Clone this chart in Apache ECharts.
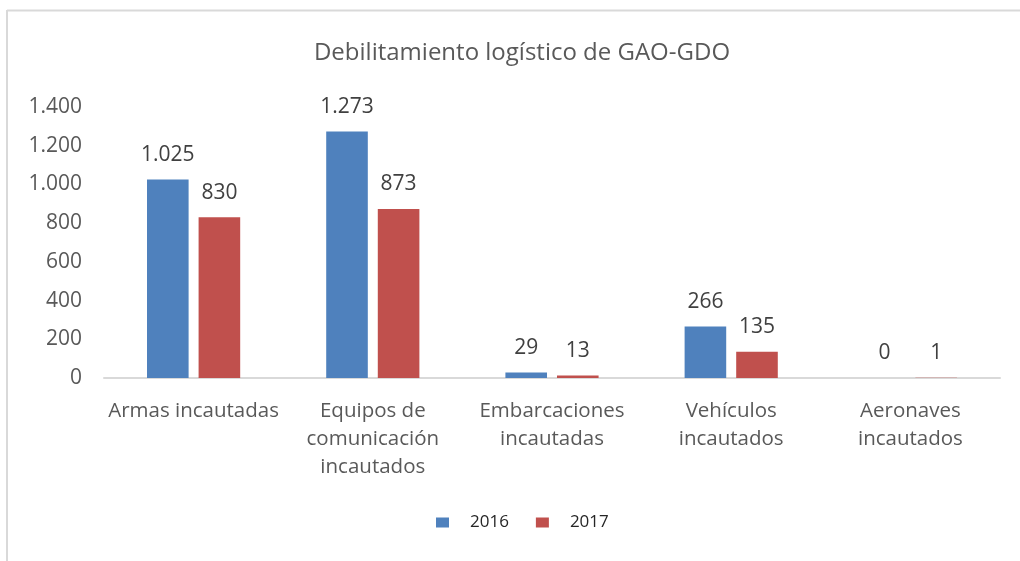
<!DOCTYPE html>
<html>
<head>
<meta charset="utf-8">
<script src="https://cdn.jsdelivr.net/npm/echarts@6/dist/echarts.min.js"></script>
<style>
html,body{margin:0;padding:0;background:#fff;}
#c{width:1020px;height:561px;}
</style>
</head>
<body>
<div id="c"></div>
<script>
var titleText = 'Debilitamiento logístico de GAO-GDO';
var categories = ['Armas incautadas', 'Equipos de\ncomunicación\nincautados', 'Embarcaciones\nincautadas', 'Vehículos\nincautados', 'Aeronaves\nincautados'];
var seriesNames = ['2016', '2017'];
var values2016 = [1025, 1273, 29, 266, 0];
var values2017 = [830, 873, 13, 135, 1];
var yTicks = [0, 200, 400, 600, 800, 1000, 1200, 1400];

function fmt(v) {
  return String(v).replace(/\B(?=(\d{3})+(?!\d))/g, '.');
}

var chart = echarts.init(document.getElementById('c'), null, {renderer: 'canvas'});
var labelStyle = {
  show: true, position: 'top', distance: 14,
  formatter: function (p) { return fmt(p.value); },
  fontFamily: 'Open Sans', fontSize: 21, color: '#404040'
};
var option = {
  backgroundColor: '#ffffff',
  animation: false,
  legend: {
    data: seriesNames,
    left: 436,
    top: 514,
    padding: 0,
    itemWidth: 13,
    itemHeight: 10,
    itemGap: 27,
    icon: 'rect',
    textStyle: {fontFamily: 'Open Sans', fontSize: 17, color: '#262626', padding: [0, 0, 0, 16]}
  },
  grid: {left: 104, right: 20, top: 107, bottom: 183, containLabel: false},
  xAxis: {
    type: 'category',
    data: categories,
    axisLine: {show: true, lineStyle: {color: '#d9d9d9', width: 2}},
    axisTick: {show: false},
    axisLabel: {
      interval: 0,
      margin: 19,
      fontFamily: 'Open Sans',
      fontSize: 20.5,
      lineHeight: 28,
      color: '#595959',
      align: 'center'
    }
  },
  yAxis: {
    type: 'value',
    min: yTicks[0],
    max: yTicks[yTicks.length - 1],
    interval: 200,
    axisLine: {show: false},
    axisTick: {show: false},
    splitLine: {show: false},
    axisLabel: {
      margin: 22,
      fontFamily: 'Open Sans',
      fontSize: 21,
      color: '#595959',
      padding: [6, 0, 0, 0],
      formatter: function (v) { return fmt(v); }
    }
  },
  series: [
    {
      name: seriesNames[0],
      type: 'bar',
      data: values2016,
      barGap: '24%',
      barCategoryGap: '48%',
      itemStyle: {color: '#4f81bd'},
      label: labelStyle
    },
    {
      name: seriesNames[1],
      type: 'bar',
      data: values2017,
      barGap: '24%',
      barCategoryGap: '48%',
      itemStyle: {color: '#c0504d'},
      label: labelStyle
    }
  ],
  graphic: [
    {type: 'line', silent: true, shape: {x1: 7, y1: 10.5, x2: 1020, y2: 10.5}, style: {stroke: '#d9d9d9', lineWidth: 2}},
    {type: 'line', silent: true, shape: {x1: 7, y1: 10, x2: 7, y2: 561}, style: {stroke: '#d9d9d9', lineWidth: 2}},
    {type: 'text', silent: true, x: 522, y: 53, style: {text: titleText, textAlign: 'center', textVerticalAlign: 'middle', font: '24px "Open Sans"', fill: '#595959'}}
  ]
};
chart.setOption(option);
</script>
</body>
</html>
